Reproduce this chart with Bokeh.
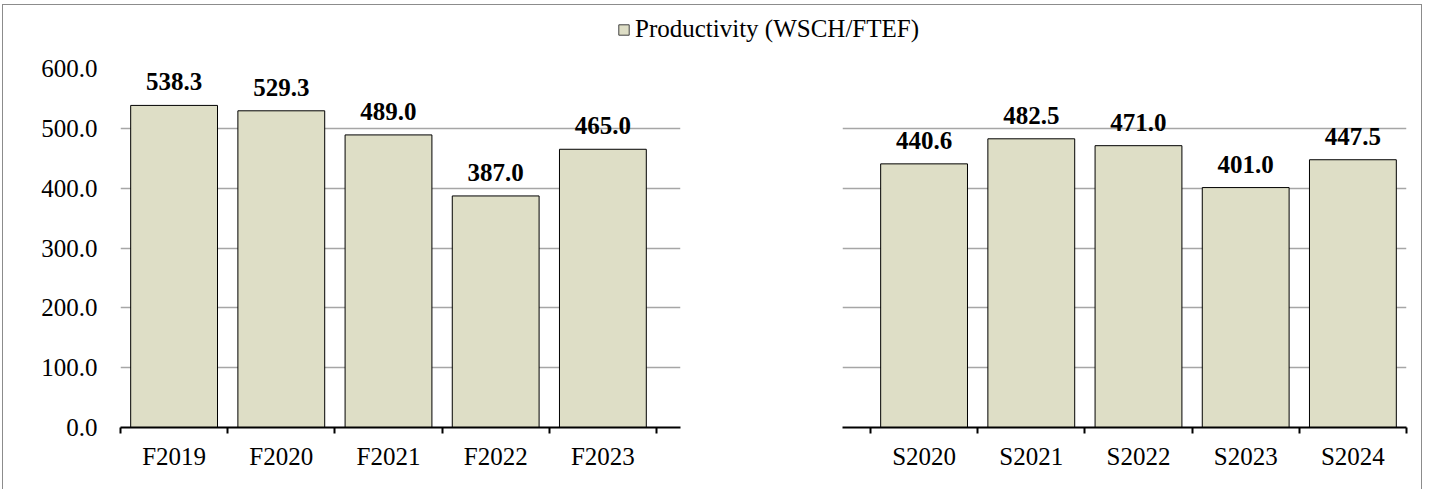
from bokeh.plotting import figure
from bokeh.models import (Range1d, FixedTicker, NumeralTickFormatter, ColumnDataSource,
                          LabelSet, Legend, LegendItem)
from bokeh.layouts import column, row
from bokeh.embed import file_html
from bokeh.resources import INLINE

# ---- data ----
fall_terms = ["F2019", "F2020", "F2021", "F2022", "F2023"]
fall_values = [538.3, 529.3, 489.0, 387.0, 465.0]
spring_terms = ["S2020", "S2021", "S2022", "S2023", "S2024"]
spring_values = [440.6, 482.5, 471.0, 401.0, 447.5]
y_ticks = [0, 100, 200, 300, 400, 500, 600]
series_name = "Productivity (WSCH/FTEF)"

BAR = "#DEDEC6"
GRID = "#A6A6A6"
FONT = "Liberation Serif"
FS = "25px"


def panel(terms, values, x_start, x_end, width, mb_left, mb_right, show_y):
    p = figure(width=width, height=440, output_backend="svg", toolbar_location=None,
               x_range=Range1d(x_start, x_end), y_range=Range1d(0, 600),
               min_border_left=mb_left, min_border_right=mb_right,
               min_border_top=19, min_border_bottom=62)
    p.outline_line_color = None
    xs = [i + 0.5 for i in range(len(terms))]
    src = ColumnDataSource(dict(x=xs, top=values, lab=[f"{v:.1f}" for v in values]))
    p.vbar(x="x", top="top", width=0.81, source=src, fill_color=BAR,
           line_color="black", line_width=1)
    p.add_layout(LabelSet(x="x", y="top", text="lab", source=src, y_offset=15,
                          text_align="center", text_baseline="alphabetic",
                          text_font=FONT, text_font_style="bold",
                          text_font_size=FS, text_color="black"))
    # x axis
    xa = p.xaxis[0]
    xa.ticker = FixedTicker(ticks=xs, minor_ticks=list(range(len(terms) + 1)))
    xa.major_label_overrides = {x: t for x, t in zip(xs, terms)}
    xa.major_tick_line_color = None
    xa.major_tick_out = 0
    xa.major_tick_in = 0
    xa.minor_tick_line_color = "black"
    xa.minor_tick_line_width = 2
    xa.minor_tick_out = 6
    xa.minor_tick_in = 0
    xa.axis_line_color = "black"
    xa.axis_line_width = 2
    xa.major_label_standoff = 9
    xa.major_label_text_font = FONT
    xa.major_label_text_font_size = FS
    xa.major_label_text_color = "black"
    p.xgrid.grid_line_color = None
    # y axis
    ya = p.yaxis[0]
    ya.ticker = FixedTicker(ticks=y_ticks)
    ya.formatter = NumeralTickFormatter(format="0.0")
    ya.axis_line_color = None
    ya.major_tick_line_color = None
    ya.minor_tick_line_color = None
    ya.major_tick_out = 0
    ya.major_label_standoff = 23
    ya.major_label_text_font = FONT
    ya.major_label_text_font_size = FS
    ya.major_label_text_color = "black"
    if not show_y:
        ya.visible = False
    p.ygrid.grid_line_color = GRID
    p.ygrid.grid_line_width = 1.5
    p.ygrid.ticker = FixedTicker(ticks=y_ticks)
    return p


left = panel(fall_terms, fall_values, 0, 5.224, 758, 117, 81, True)
right = panel(spring_terms, spring_values, -0.261, 5, 660, 81, 15, False)

# legend strip
top = figure(width=1418, height=44, output_backend="svg", toolbar_location=None,
             min_border=0, x_range=Range1d(0, 1), y_range=Range1d(0, 1))
top.outline_line_color = None
top.axis.visible = False
top.grid.visible = False
dummy = top.vbar(x=[0.5], top=[float("nan")], width=0, fill_color=BAR,
                 line_color="#404040")
leg = Legend(items=[LegendItem(label=series_name, renderers=[dummy])],
             location=(614, 6), orientation="horizontal",
             glyph_width=13, glyph_height=13, label_standoff=5,
             label_text_font=FONT, label_text_font_size=FS,
             label_text_color="black", border_line_color=None,
             background_fill_alpha=0, padding=0, margin=0, spacing=0)
top.add_layout(leg)

layout = column(top, row(left, right, spacing=0), spacing=0,
                margin=(4, 0, 0, 2),
                styles={"border": "1px solid #8C8C8C"})

open("out.html", "w").write(file_html(layout, INLINE))
